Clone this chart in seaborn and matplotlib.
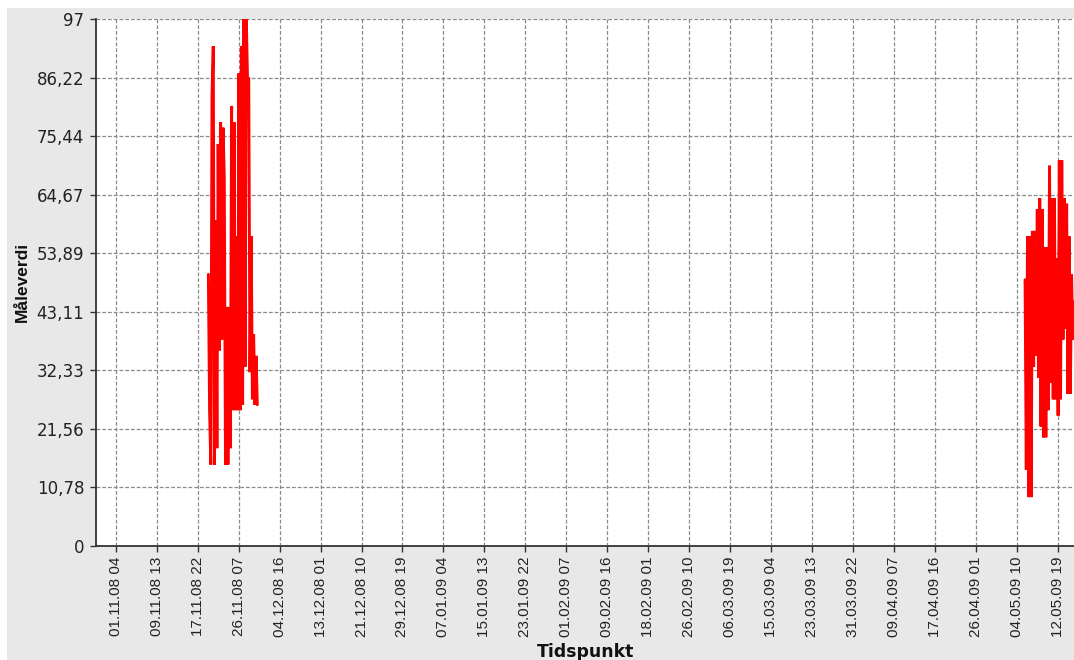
import matplotlib
matplotlib.use("Agg")
import matplotlib.pyplot as plt
from matplotlib.patches import Rectangle
import pandas as pd
import seaborn as sns

# Two logging periods, one reading every 6 hours
sample_hours = 6
period1_start = "20.11.08 03"
period1_values = [50, 25, 15, 83, 92, 15, 60, 18, 74, 36,
                  78, 38, 77, 68, 15, 44, 15, 44, 18, 81,
                  25, 78, 25, 57, 25, 87, 25, 92, 26, 97,
                  33, 97, 86, 86, 32, 57, 27, 39, 26, 35, 26]
period2_start = "06.05.09 00"
period2_values = [49, 14, 57, 9, 57, 9, 58, 33, 58, 35,
                  62, 31, 64, 22, 62, 20, 55, 20, 55, 25,
                  70, 30, 64, 27, 64, 27, 53, 24, 71, 27,
                  71, 38, 64, 40, 63, 28, 57, 28, 50, 38, 45]

x_tick_labels = ["01.11.08 04", "09.11.08 13", "17.11.08 22", "26.11.08 07",
                 "04.12.08 16", "13.12.08 01", "21.12.08 10", "29.12.08 19",
                 "07.01.09 04", "15.01.09 13", "23.01.09 22", "01.02.09 07",
                 "09.02.09 16", "18.02.09 01", "26.02.09 10", "06.03.09 19",
                 "15.03.09 04", "23.03.09 13", "31.03.09 22", "09.04.09 07",
                 "17.04.09 16", "26.04.09 01", "04.05.09 10", "12.05.09 19"]
y_tick_labels = ["0", "10,78", "21,56", "32,33", "43,11",
                 "53,89", "64,67", "75,44", "86,22", "97"]
x_range = ("28.10.08 04", "16.05.09 00")
x_title = "Tidspunkt"
y_title = "Måleverdi"

FMT = "%d.%m.%y %H"


def period_frame(start, values, name):
    times = pd.date_range(pd.to_datetime(start, format=FMT),
                          periods=len(values), freq=f"{sample_hours}h")
    return pd.DataFrame({"Tidspunkt": times, "Måleverdi": values, "periode": name})


df = pd.concat([period_frame(period1_start, period1_values, "p1"),
                period_frame(period2_start, period2_values, "p2")],
               ignore_index=True)

sns.set_style("white")

W, H = 1074, 660
fig = plt.figure(figsize=(W / 100, H / 100), dpi=100, facecolor="white")
fig.add_artist(Rectangle((7 / W, 0), 1, (H - 8) / H, transform=fig.transFigure,
                         facecolor="#e8e8e8", edgecolor="none", zorder=0))
ax = fig.add_axes([96 / W, 1 - 546 / H, 1 - 96 / W, (546 - 19) / H])
ax.set_facecolor("white")

sns.lineplot(data=df, x="Tidspunkt", y="Måleverdi", units="periode",
             estimator=None, color="#ff0000", linewidth=2.1, legend=False, ax=ax)
for line in ax.get_lines():
    line.set_solid_joinstyle("miter")

xt = pd.to_datetime(x_tick_labels, format=FMT)
ax.set_xticks(xt)
ax.set_xticklabels(x_tick_labels, rotation=90, family="Liberation Sans",
                   fontsize=11, color="#222222")
ax.set_xlim(pd.to_datetime(x_range[0], format=FMT), pd.to_datetime(x_range[1], format=FMT))

yt = [float(s.replace(",", ".")) for s in y_tick_labels]
ax.set_yticks(yt)
ax.set_yticklabels(y_tick_labels, family="DejaVu Sans", fontsize=12, color="#222222")
ax.set_ylim(0, 97)

ax.set_xlabel("")
ax.set_ylabel("")
ax.set_axisbelow(True)
ax.grid(True, color="#8a8a8a", linestyle=(0, (3, 1.6)), linewidth=0.9)

for side in ("top", "right"):
    ax.spines[side].set_visible(False)
for side in ("left", "bottom"):
    ax.spines[side].set_color("#333333")
    ax.spines[side].set_linewidth(1.3)

ax.tick_params(axis="both", direction="out", length=4.5, width=1,
               color="#333333", left=True, bottom=True)
ax.tick_params(axis="y", pad=4)
ax.tick_params(axis="x", pad=3)

fig.text(22 / W, 1 - 282 / H, y_title, rotation=90, ha="center", va="center",
         family="Liberation Sans", fontweight="bold", fontsize=12.5, color="#111111")
fig.text(586 / W, 1 - 643 / H, x_title, ha="center", va="top",
         family="DejaVu Sans", fontweight="bold", fontsize=12.4, color="#111111")

fig.savefig("out.png", dpi=100, facecolor=fig.get_facecolor())
